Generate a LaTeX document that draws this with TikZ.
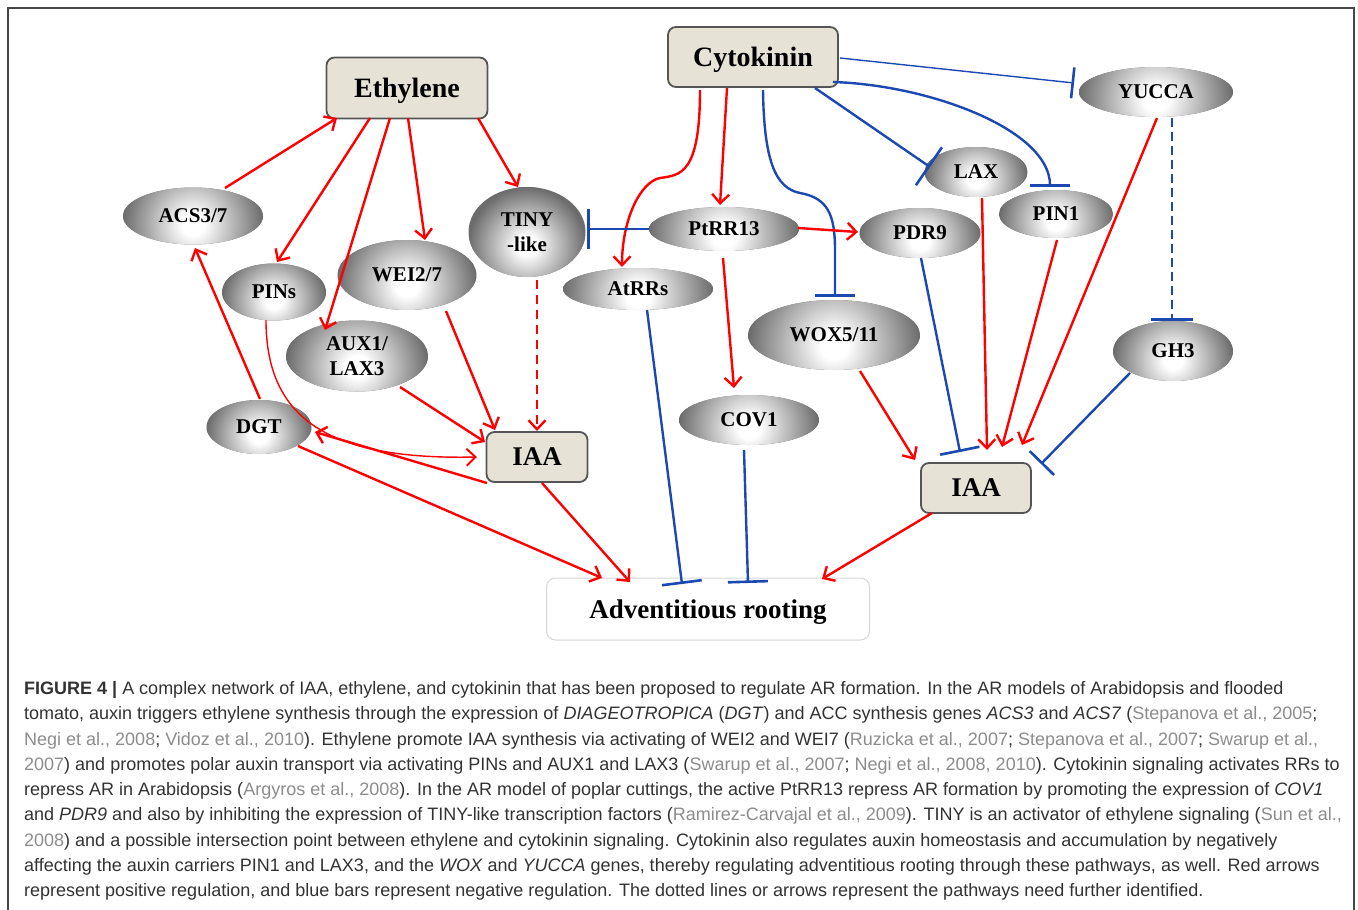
\documentclass[tikz,border=0pt]{standalone}
\usepackage{fontspec}
\setmainfont{Liberation Serif}
\setsansfont{Liberation Sans}
\usetikzlibrary{shapes.geometric,arrows.meta,calc}
\definecolor{arred}{RGB}{255,0,0}
\definecolor{inhblue}{RGB}{28,72,178}
\definecolor{boxfill}{RGB}{230,227,214}
\definecolor{boxline}{RGB}{85,85,85}
\definecolor{ellgray}{RGB}{108,108,108}
\definecolor{capdark}{RGB}{50,50,50}
\definecolor{capgray}{RGB}{140,140,140}
\definecolor{framecol}{RGB}{70,70,70}
\definecolor{advline}{RGB}{215,215,215}
\pgfdeclareradialshading{ellsh}{\pgfpoint{0bp}{0bp}}{color(0bp)=(white); color(4bp)=(white); color(25bp)=(ellgray); color(50bp)=(ellgray)}
\newcommand\cit[1]{\textcolor{capgray}{#1}}
\begin{document}
\begin{tikzpicture}[x=1pt,y=-1pt,
  bx/.style={draw=boxline, line width=1.8pt, fill=boxfill, rounded corners=8pt, inner sep=0pt, text depth=0pt},
  advbox/.style={draw=advline, line width=1pt, fill=white, rounded corners=9pt, inner sep=0pt, text depth=0pt},
  ell/.style={ellipse, inner sep=0pt, align=center, fill=ellgray,
    font=\fontsize{21}{25}\selectfont\bfseries,
    path picture={\shade[shading=ellsh] let \p1=(path picture bounding box.center),
      \p2=(path picture bounding box.east), \p3=(path picture bounding box.north) in
      (\x1,{\y1-0.3*(\y3-\y1)}) circle [radius={\x2-\x1}];}},
  act/.style={draw=arred, line width=2.4pt, -{Straight Barb[length=9pt,width=17pt]}},
  actthin/.style={draw=arred, line width=1.4pt, -{Straight Barb[length=9pt,width=17pt,line width=2pt]}},
  inh/.style={draw=inhblue, line width=2.4pt, -{Bar[width=#1,line width=2.6pt]}},
  inh/.default=40pt,
  inhthin/.style={draw=inhblue, line width=1.4pt, -{Bar[width=#1,line width=2.6pt]}},
  inhthin/.default=40pt,
  capline/.style={anchor=base west, inner sep=0pt, text=capdark, font=\sffamily\fontsize{18}{25}\selectfont}
]
\useasboundingbox (0,0) rectangle (1358,910);
\draw[framecol, line width=2pt] (8,915) -- (8,8) -- (1354,8) -- (1354,915);

% boxes
\node[bx, minimum width=161pt, minimum height=61pt, font=\fontsize{28}{30}\selectfont\bfseries] (eth) at (407,88) {Ethylene};
\node[bx, minimum width=170pt, minimum height=60pt, font=\fontsize{28}{30}\selectfont\bfseries] (cyt) at (753,57) {Cytokinin};
\node[bx, minimum width=101pt, minimum height=50pt, font=\fontsize{27}{30}\selectfont\bfseries] (iaaL) at (537,457) {IAA};
\node[bx, minimum width=110pt, minimum height=50pt, font=\fontsize{27}{30}\selectfont\bfseries] (iaaR) at (976,488) {IAA};
\node[advbox, minimum width=323pt, minimum height=62pt, font=\fontsize{27}{30}\selectfont\bfseries] (adv) at (708,609) {Adventitious rooting};

% ellipses
\node[ell, minimum width=140pt, minimum height=57pt] (acs) at (193,216) {ACS3/7};
\node[ell, minimum width=104pt, minimum height=57pt] (pins) at (274,292) {PINs};
\node[ell, minimum width=139pt, minimum height=70pt] (wei) at (407,275) {WEI2/7};
\node[ell, minimum width=117pt, minimum height=90pt] (tiny) at (527,232) {TINY\\-like};
\node[ell, minimum width=142pt, minimum height=71pt] (aux) at (357,356) {AUX1/\\LAX3};
\node[ell, minimum width=105pt, minimum height=54pt] (dgt) at (259,427) {DGT};
\node[ell, minimum width=150pt, minimum height=44pt] (ptrr) at (724,229) {PtRR13};
\node[ell, minimum width=150pt, minimum height=42pt] (atrr) at (638,289) {AtRRs};
\node[ell, minimum width=121pt, minimum height=50pt] (pdr) at (920,233) {PDR9};
\node[ell, minimum width=103pt, minimum height=50pt] (lax) at (976,172) {LAX};
\node[ell, minimum width=114pt, minimum height=48pt] (pin1) at (1056,214) {PIN1};
\node[ell, minimum width=154pt, minimum height=50pt] (yuc) at (1156,92) {YUCCA};
\node[ell, minimum width=172pt, minimum height=70pt] (wox) at (834,335) {WOX5/11};
\node[ell, minimum width=140pt, minimum height=50pt] (cov) at (749,420) {COV1};
\node[ell, minimum width=120pt, minimum height=60pt] (gh3) at (1173,351) {GH3};

% ethylene branch
\draw[act] ([shift={(32,-28)}]acs.center) -- ([shift={(-70,30)}]eth.center);
\draw[act] ([shift={(-37,30)}]eth.center) -- ([shift={(3,-30)}]pins.center);
\draw[act] ([shift={(-17,30)}]eth.center) -- ([shift={(-32,-26)}]aux.center);
\draw[act] ([shift={(1,30)}]eth.center) -- ([shift={(18,-35)}]wei.center);
\draw[act] ([shift={(71,30)}]eth.center) -- ([shift={(-9,-45)}]tiny.center);
\draw[act, dash pattern=on 9pt off 6pt] ([shift={(10,48)}]tiny.center) -- ([shift={(0,-26)}]iaaL.center);
\draw[act] ([shift={(39,36)}]wei.center) -- ([shift={(-42,-27)}]iaaL.center);
\draw[act] ([shift={(43,31)}]aux.center) -- ([shift={(-52,-15)}]iaaL.center);
\draw[actthin] ([shift={(-8,28)}]pins.center) .. controls ([shift={(-8,128)}]pins.center) and ([shift={(-207,3)}]iaaL.center) .. ([shift={(-60,0)}]iaaL.center);
\draw[act] ([shift={(-50,26)}]iaaL.center) -- ([shift={(56,5)}]dgt.center);
\draw[act] ([shift={(1,-28)}]dgt.center) -- ([shift={(2,32)}]acs.center);
\draw[act] ([shift={(39,19)}]dgt.center) -- ([shift={(-106,-31)}]adv.center);
\draw[act] ([shift={(5,26)}]iaaL.center) -- ([shift={(-78,-27)}]adv.center);

% cytokinin branch
\draw[act] ([shift={(-53,33)}]cyt.center) .. controls ([shift={(-53,118)}]cyt.center) and ([shift={(-73,118)}]cyt.center) .. ([shift={(-93,121)}]cyt.center)
  .. controls ([shift={(2,-107)}]atrr.center) and ([shift={(-16,-69)}]atrr.center) .. ([shift={(-16,-22)}]atrr.center);
\draw[act] ([shift={(-26,31)}]cyt.center) -- ([shift={(-4,-24)}]ptrr.center);
\draw[inh] ([shift={(10,33)}]cyt.center) .. controls ([shift={(11,103)}]cyt.center) and ([shift={(22,131)}]cyt.center) .. ([shift={(47,136)}]cyt.center)
  .. controls ([shift={(-6,-137)}]wox.center) and ([shift={(1,-120)}]wox.center) .. ([shift={(1,-85)}]wox.center) -- ([shift={(1,-38)}]wox.center);
\draw[inh=46pt] ([shift={(62,31)}]cyt.center) -- ([shift={(-46,-5)}]lax.center);
\draw[inh] ([shift={(80,25)}]cyt.center) .. controls ([shift={(-126,-129)}]pin1.center) and ([shift={(-6,-84)}]pin1.center) .. ([shift={(-6,-27)}]pin1.center);
\draw[inhthin=31pt] ([shift={(87,1)}]cyt.center) -- ([shift={(-82,-9)}]yuc.center);
\draw[inhthin] (ptrr.west) -- ([shift={(60,-3)}]tiny.center);
\draw[act] ([shift={(74,-1)}]ptrr.center) -- ([shift={(-62,-1)}]pdr.center);
\draw[act] ([shift={(-1,29)}]ptrr.center) -- ([shift={(-15,-32)}]cov.center);
\draw[inh] ([shift={(9,21)}]atrr.center) -- ([shift={(-26,-25)}]adv.center);
\draw[inh] ([shift={(-5,30)}]cov.center) -- ([shift={(40,-26)}]adv.center);
\draw[act] ([shift={(26,36)}]wox.center) -- ([shift={(-61,-28)}]iaaR.center);
\draw[inh] ([shift={(1,25)}]pdr.center) -- ([shift={(-16,-36)}]iaaR.center);
\draw[act] ([shift={(6,26)}]lax.center) -- ([shift={(11,-38)}]iaaR.center);
\draw[act] ([shift={(1,26)}]pin1.center) -- ([shift={(26,-41)}]iaaR.center);
\draw[act] ([shift={(1,26)}]yuc.center) -- ([shift={(46,-43)}]iaaR.center);
\draw[inh=42pt, dash pattern=on 9pt off 5pt] ([shift={(16,26)}]yuc.center) -- ([shift={(-1,-30)}]gh3.center);
\draw[inh=34pt] ([shift={(-43,22)}]gh3.center) -- ([shift={(65,-24)}]iaaR.center);
\draw[act] ([shift={(-44,25)}]iaaR.center) -- ([shift={(114,-30)}]adv.center);

% caption
\node[capline] (cap1) at (24,694.5) {\textbf{FIGURE 4 |} A complex network of IAA, ethylene, and cytokinin that has been proposed to regulate AR formation. In the AR models of Arabidopsis and flooded};
\node[capline] (cap2) at (24,719.75) {tomato, auxin triggers ethylene synthesis through the expression of \textit{DIAGEOTROPICA} (\textit{DGT}) and ACC synthesis genes \textit{ACS3} and \textit{ACS7} (\cit{Stepanova et al., 2005};};
\node[capline] (cap3) at (24,745) {\cit{Negi et al., 2008}; \cit{Vidoz et al., 2010}). Ethylene promote IAA synthesis via activating of WEI2 and WEI7 (\cit{Ruzicka et al., 2007}; \cit{Stepanova et al., 2007}; \cit{Swarup et al.,}};
\node[capline] (cap4) at (24,770.25) {\cit{2007}) and promotes polar auxin transport via activating PINs and AUX1 and LAX3 (\cit{Swarup et al., 2007}; \cit{Negi et al., 2008, 2010}). Cytokinin signaling activates RRs to};
\node[capline] (cap5) at (24,795.5) {repress AR in Arabidopsis (\cit{Argyros et al., 2008}). In the AR model of poplar cuttings, the active PtRR13 repress AR formation by promoting the expression of \textit{COV1}};
\node[capline] (cap6) at (24,820.75) {and \textit{PDR9} and also by inhibiting the expression of TINY-like transcription factors (\cit{Ramirez-Carvajal et al., 2009}). TINY is an activator of ethylene signaling (\cit{Sun et al.,}};
\node[capline] (cap7) at (24,846) {\cit{2008}) and a possible intersection point between ethylene and cytokinin signaling. Cytokinin also regulates auxin homeostasis and accumulation by negatively};
\node[capline] (cap8) at (24,871.25) {affecting the auxin carriers PIN1 and LAX3, and the \textit{WOX} and \textit{YUCCA} genes, thereby regulating adventitious rooting through these pathways, as well. Red arrows};
\node[capline] (cap9) at (24,896.5) {represent positive regulation, and blue bars represent negative regulation. The dotted lines or arrows represent the pathways need further identified.};
\end{tikzpicture}
\end{document}
